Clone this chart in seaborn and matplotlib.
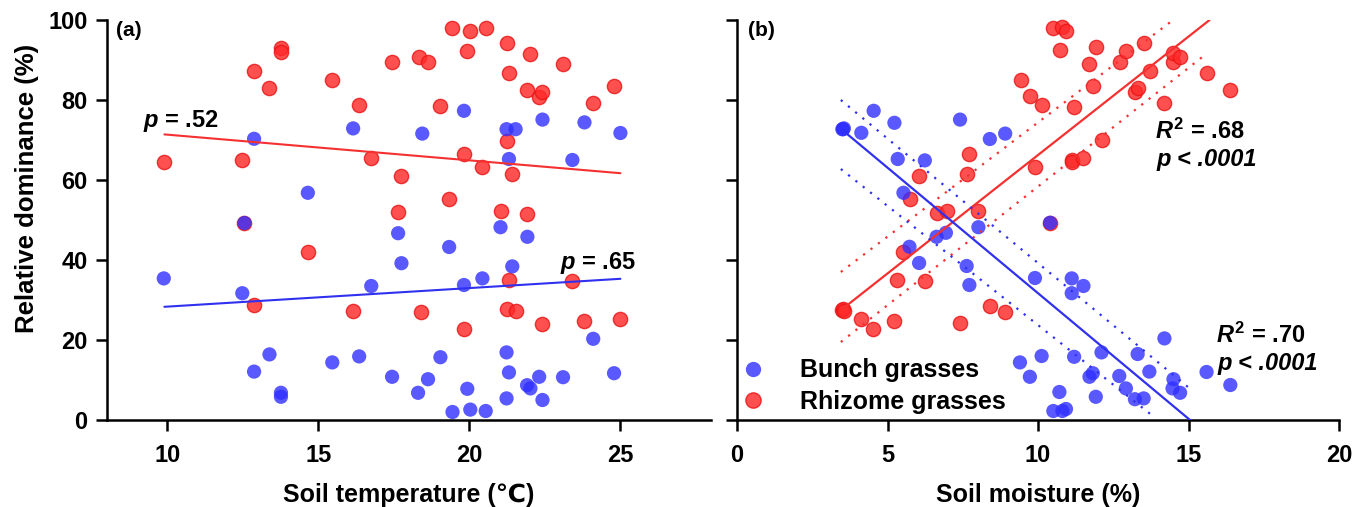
import numpy as np
import pandas as pd
import matplotlib
matplotlib.use("Agg")
import matplotlib.pyplot as plt
import seaborn as sns
from matplotlib.lines import Line2D

sns.set_theme(style="ticks")
plt.rcParams["font.family"] = ["Liberation Sans", "DejaVu Sans"]
plt.rcParams["font.weight"] = "bold"
plt.rcParams["text.color"] = "black"
plt.rcParams["axes.labelcolor"] = "black"
plt.rcParams["xtick.color"] = "black"
plt.rcParams["ytick.color"] = "black"
plt.rcParams["mathtext.fontset"] = "custom"
plt.rcParams["mathtext.it"] = "Liberation Sans:italic:bold"
plt.rcParams["mathtext.rm"] = "Liberation Sans:bold"
plt.rcParams["mathtext.bf"] = "Liberation Sans:bold"

# ---------------- data: panel (a) soil temperature ----------------
a_red_x = [9.88, 12.48, 12.55, 12.87, 12.87, 13.38, 13.77, 13.77, 14.65, 15.45,
           16.15, 16.33, 16.74, 17.45, 17.64, 17.75, 18.33, 18.40, 18.64, 19.04,
           19.34, 19.44, 19.82, 19.82, 19.93, 20.03, 20.43, 20.54, 21.03, 21.23,
           21.23, 21.23, 21.31, 21.31, 21.42, 21.53, 21.90, 21.91, 22.02, 22.31,
           22.42, 22.42, 23.10, 23.41, 23.80, 24.10, 24.80, 25.00]
a_red_y = [64.4, 65.0, 49.25, 87.25, 28.7, 82.9, 93.0, 92.0, 41.9, 85.0,
           27.25, 78.8, 65.6, 89.5, 52.1, 61.0, 90.75, 26.9, 89.5, 78.5,
           55.3, 98.0, 66.4, 22.75, 92.3, 97.3, 63.3, 97.9, 52.2, 94.3,
           69.8, 27.75, 86.8, 35.0, 61.4, 27.3, 82.5, 51.4, 91.5, 80.8,
           82.1, 24.1, 88.9, 34.75, 24.8, 79.3, 83.5, 25.2]
a_blue_x = [9.88, 12.48, 12.55, 12.87, 12.87, 13.38, 13.76, 13.76, 14.65, 15.46,
            16.15, 16.35, 16.75, 17.44, 17.64, 17.75, 18.30, 18.44, 18.63, 19.04,
            19.33, 19.44, 19.82, 19.82, 19.93, 20.03, 20.43, 20.54, 21.03, 21.23,
            21.23, 21.23, 21.31, 21.31, 21.42, 21.53, 21.91, 21.92, 22.02, 22.31,
            22.42, 22.42, 23.10, 23.41, 23.81, 24.10, 24.79, 25.00]
a_blue_y = [35.4, 31.7, 49.25, 70.3, 12.1, 16.4, 6.8, 5.8, 56.8, 14.4,
            72.9, 15.9, 33.5, 10.8, 46.7, 39.2, 6.8, 71.6, 10.2, 15.7,
            43.25, 2.0, 77.3, 33.75, 7.8, 2.6, 35.4, 2.25, 48.2, 72.7,
            16.9, 5.4, 65.25, 11.9, 38.4, 72.7, 8.7, 45.8, 7.9, 10.8,
            75.1, 5.0, 10.7, 65.0, 74.4, 20.3, 11.7, 71.75]

# fitted lines
a_fit_x = [9.9, 25.0]
a_red_fit_y = [71.4, 61.7]
a_blue_fit_y = [28.3, 35.3]

# ---------------- data: panel (b) soil moisture ----------------
b_red_x = [3.48, 3.52, 3.55, 4.13, 4.53, 5.23, 5.33, 5.53, 5.75, 6.04,
           6.24, 6.63, 6.97, 7.41, 7.63, 7.72, 8.02, 8.40, 8.91, 9.42,
           9.73, 9.90, 10.12, 10.40, 10.51, 10.73, 10.81, 10.93, 11.12, 11.12,
           11.20, 11.51, 11.71, 11.82, 11.92, 12.11, 12.71, 12.92, 13.22, 13.31,
           13.51, 13.71, 14.20, 14.47, 14.50, 14.72, 15.60, 16.39]
b_red_y = [27.5, 27.75, 27.25, 25.25, 22.7, 24.8, 35.0, 41.9, 55.3, 61.1,
           34.75, 51.7, 52.25, 24.2, 61.6, 66.5, 52.3, 28.6, 26.9, 85.0,
           81.0, 63.3, 78.75, 49.3, 97.9, 92.5, 98.2, 97.25, 65.0, 64.4,
           78.3, 65.6, 88.9, 83.5, 93.2, 70.0, 89.5, 92.3, 82.1, 82.9,
           94.3, 87.2, 79.3, 89.4, 91.7, 90.7, 86.8, 82.4]
b_blue_x = [3.50, 3.52, 3.55, 4.13, 4.54, 5.23, 5.34, 5.53, 5.73, 6.05,
            6.24, 6.63, 6.94, 7.41, 7.63, 7.72, 8.02, 8.40, 8.91, 9.40,
            9.73, 9.90, 10.12, 10.40, 10.51, 10.71, 10.81, 10.93, 11.12, 11.12,
            11.20, 11.51, 11.71, 11.82, 11.92, 12.11, 12.70, 12.92, 13.22, 13.31,
            13.51, 13.70, 14.20, 14.47, 14.50, 14.72, 15.60, 16.39]
b_blue_y = [72.7, 72.7, 72.9, 71.8, 77.3, 74.3, 65.25, 56.8, 43.3, 39.25,
            64.9, 45.8, 46.8, 75.1, 38.5, 33.75, 48.2, 70.25, 71.6, 14.4,
            10.8, 35.5, 16.0, 49.3, 2.25, 7.0, 2.25, 2.75, 35.4, 31.7,
            15.8, 33.5, 10.8, 11.7, 5.8, 16.9, 11.0, 7.9, 5.2, 16.5,
            5.4, 12.1, 20.4, 7.9, 10.2, 6.8, 12.0, 8.75]

# fitted lines and bands
b_red_fit_x, b_red_fit_y = [3.5, 15.7], [27.75, 100.0]
b_red_up_x, b_red_up_y = [3.45, 14.4], [37.0, 99.5]
b_red_lo_x, b_red_lo_y = [3.45, 15.5], [19.5, 91.0]
b_blue_fit_x, b_blue_fit_y = [3.5, 15.05], [72.5, 0.0]
b_blue_up_x, b_blue_up_y = [3.45, 14.98], [80.0, 8.25]
b_blue_lo_x, b_blue_lo_y = [3.45, 13.9], [62.75, 0.5]

labels = ["Bunch grasses", "Rhizome grasses"]
yticks = [0, 20, 40, 60, 80, 100]
a_xticks = [10, 15, 20, 25]
b_xticks = [0, 5, 10, 15, 20]

BLUE = "#2f2fff"
RED = "#ff2a2a"
RED_EDGE = "#e81515"

fig = plt.figure(figsize=(13.6, 5.07), dpi=100)
ax_a = fig.add_axes([107 / 1360, 87 / 507, 604 / 1360, 400 / 507])
ax_b = fig.add_axes([737 / 1360, 87 / 507, 602 / 1360, 400 / 507])

S = 105
for ax, rx, ry, bx, by in [(ax_a, a_red_x, a_red_y, a_blue_x, a_blue_y),
                           (ax_b, b_red_x, b_red_y, b_blue_x, b_blue_y)]:
    sns.scatterplot(x=rx, y=ry, ax=ax, color=RED, edgecolor=RED_EDGE, linewidth=1.0,
                    s=S, alpha=0.82, clip_on=False, legend=False, zorder=3)
    sns.scatterplot(x=bx, y=by, ax=ax, color=BLUE, edgecolor="none", linewidth=0,
                    s=S, alpha=0.8, clip_on=False, legend=False, zorder=4)

# panel (a) lines
sns.lineplot(x=a_fit_x, y=a_red_fit_y, ax=ax_a, color="#f53030", lw=1.5, zorder=5)
sns.lineplot(x=a_fit_x, y=a_blue_fit_y, ax=ax_a, color="#3030f0", lw=1.5, zorder=5)

# panel (b) lines
dot = (0, (1, 3.2))
sns.lineplot(x=b_red_fit_x, y=b_red_fit_y, ax=ax_b, color="#f53030", lw=1.6, zorder=5)
sns.lineplot(x=b_red_up_x, y=b_red_up_y, ax=ax_b, color="#f53030", lw=1.6, ls=dot, zorder=5)
sns.lineplot(x=b_red_lo_x, y=b_red_lo_y, ax=ax_b, color="#f53030", lw=1.6, ls=dot, zorder=5)
sns.lineplot(x=b_blue_fit_x, y=b_blue_fit_y, ax=ax_b, color="#3030f0", lw=1.6, zorder=5)
sns.lineplot(x=b_blue_up_x, y=b_blue_up_y, ax=ax_b, color="#3030f0", lw=1.6, ls=dot, zorder=5)
sns.lineplot(x=b_blue_lo_x, y=b_blue_lo_y, ax=ax_b, color="#3030f0", lw=1.6, ls=dot, zorder=5)

for ax in (ax_a, ax_b):
    ax.set_ylim(0, 100)
    ax.set_yticks(yticks)
    ax.tick_params(direction="out", length=8, width=1.8, colors="black",
                   labelsize=17)
    ax.tick_params(axis="x", pad=9)
    ax.tick_params(axis="y", pad=6)
    for sp in ("left", "bottom"):
        ax.spines[sp].set_linewidth(1.8)
        ax.spines[sp].set_color("black")
    sns.despine(ax=ax)

ax_a.set_xlim(8, 28)
ax_a.set_xticks(a_xticks)
ax_a.set_xticklabels([str(t) for t in a_xticks], fontweight="bold")
ax_a.set_yticklabels([str(t) for t in yticks], fontweight="bold")
ax_a.set_xlabel("Soil temperature (℃)", fontsize=18, fontweight="bold", labelpad=12)
ax_a.set_ylabel("Relative dominance (%)", fontsize=18.5, fontweight="bold")
ax_a.yaxis.set_label_coords(-0.112, 0.58)

ax_b.set_xlim(0, 20)
ax_b.set_xticks(b_xticks)
ax_b.set_xticklabels([str(t) for t in b_xticks], fontweight="bold")
ax_b.tick_params(labelleft=False)
ax_b.set_xlabel("Soil moisture (%)", fontsize=18, fontweight="bold", labelpad=12)

# panel labels
ax_a.text(8.3, 97.3, "(a)", fontsize=15, fontweight="bold", va="center")
ax_b.text(0.35, 97.3, "(b)", fontsize=15, fontweight="bold", va="center")

# annotations
TS = 17
ax_a.text(9.2, 74.8, "$p$ = .52", fontsize=TS, fontweight="bold", va="center")
ax_a.text(23.0, 39.3, "$p$ = .65", fontsize=TS, fontweight="bold", va="center")
ax_b.text(13.9, 72.2, "$R^2$ = .68", fontsize=TS, fontweight="bold", va="center")
ax_b.text(13.95, 65.2, "p < .0001", fontsize=TS, fontweight="bold",
          fontstyle="italic", va="center")
ax_b.text(15.9, 21.2, "$R^2$ = .70", fontsize=TS, fontweight="bold", va="center")
ax_b.text(15.95, 14.2, "p < .0001", fontsize=TS, fontweight="bold",
          fontstyle="italic", va="center")

handles = [Line2D([], [], ls="none", marker="o", ms=11, color=BLUE, alpha=0.8, mec="none"),
           Line2D([], [], ls="none", marker="o", ms=11, color=RED, alpha=0.82, mec=RED_EDGE)]
ax_b.legend(handles, labels, loc="lower left", bbox_to_anchor=(0.005, 0.015),
            frameon=False, handlelength=1.0, handletextpad=1.4,
            labelspacing=0.3, borderpad=0, borderaxespad=0,
            prop={"weight": "bold", "size": 18})

fig.savefig("out.png", dpi=100)
